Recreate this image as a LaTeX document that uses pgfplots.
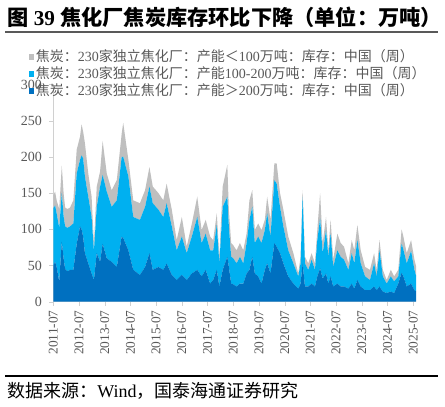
\documentclass[border=0pt]{standalone}
\usepackage{fontspec}
\setmainfont{Liberation Serif}
\newfontfamily\cjk{Noto Sans CJK SC}
\usepackage{pgfplots}
\pgfplotsset{compat=1.18}
\usepackage{pgfplotstable}

\definecolor{cokegray}{HTML}{BFBFBF}
\definecolor{cokecyan}{HTML}{00B0F0}
\definecolor{cokeblue}{HTML}{0070C0}
\definecolor{axisgray}{HTML}{D0D0D0}
\definecolor{labelgray}{HTML}{595959}

\newcommand\cj[1]{{\cjk #1}}

% weekly stock: d = >200, m = 100-200, s = <100 (10k t)
\pgfplotstableread{
t       d    m    s
2011.50 50   79   18
2011.57 55   78   19
2011.63 48   74   18
2011.73 28   74   26
2011.83 83   67   38
2011.90 60   58   32
2011.96 45   59   26
2012.05 42   60   26
2012.15 44   60   26
2012.28 44   64   32
2012.41 80   97   33
2012.54 104  92   32
2012.60 100  102  43
2012.66 90   108  37
2012.73 67   106  46
2012.86 53   92   32
2012.99 39   78   28
2013.08 30   40   10
2013.19 67   64   28
2013.32 55   104  21
2013.42 80   95   47
2013.58 60   92   25
2013.77 55   76   23
2013.97 48   92   28
2014.16 90   110  32
2014.22 88   112  47
2014.42 71   102  23
2014.61 44   73   23
2014.87 37   76   23
2015.07 48   83   23
2015.24 67   92   27
2015.37 44   92   23
2015.59 48   79   23
2015.78 44   73   23
2015.91 53   83   27
2016.11 37   67   23
2016.30 30   41   14
2016.50 37   53   27
2016.69 30   37   9
2016.89 39   51   18
2017.10 44   73   28
2017.27 35   46   18
2017.43 44   50   19
2017.60 25   46   19
2017.72 30   41   14
2017.86 44   62   16
2017.96 21   32   9
2018.09 44   87   28
2018.27 62   83   44
2018.33 48   56   23
2018.42 25   37   19
2018.50 24   36   18
2018.63 21   32   18
2018.76 25   37   19
2018.89 25   28   18
2019.02 39   42   13
2019.13 44   69   27
2019.24 62   69   23
2019.34 39   42   18
2019.47 35   55   18
2019.60 25   56   18
2019.73 44   55   14
2019.82 53   69   23
2019.95 39   51   23
2020.10 81   87   23
2020.19 76   87   28
2020.32 67   64   19
2020.45 53   51   23
2020.64 35   36   19
2020.84 25   28   14
2021.03 18   17   4
2021.12 25   28   9
2021.20 53   92   9
2021.29 21   32   9
2021.42 21   23   9
2021.55 25   33   9
2021.68 21   23   9
2021.77 35   50   14
2021.88 46   69   35
2021.98 32   35   14
2022.11 39   60   18
2022.20 25   37   9
2022.29 35   59   19
2022.39 21   27   10
2022.55 25   46   23
2022.68 21   41   19
2022.81 21   37   18
2022.98 18   26   9
2023.11 25   42   18
2023.21 18   35   18
2023.33 30   55   21
2023.46 21   32   18
2023.63 16   19   13
2023.82 16   14   14
2023.98 21   32   14
2024.08 16   19   9
2024.19 21   50   14
2024.32 14   21   9
2024.47 12   13   5
2024.63 14   21   9
2024.76 12   16   7
2024.92 25   10   9
2025.05 40   40   20
2025.12 35   37   18
2025.25 21   32   14
2025.42 25   45   15
2025.55 16   28   14
2025.62 14   21   13
}\stock

\begin{document}
\begin{tikzpicture}[x=0.75pt,y=0.75pt]
\path[use as bounding box] (0,0) rectangle (445,406);

\node[anchor=west, inner sep=0pt, font=\fontsize{15.9}{15.9}\selectfont\bfseries]
  at (7,389) {\cj{图} 39 \cj{焦化厂焦炭库存环比下降（单位：万吨）}};
\draw[line width=0.8pt, black!65] (5,374) -- (438,374);
\draw[line width=0.8pt, black] (5,30) -- (438,30);
\node[anchor=west, inner sep=0pt, font=\fontsize{13.5}{13.5}\selectfont]
  at (7,15.5) {\cj{数据来源：}Wind\cj{，国泰海通证券研究}};

\begin{axis}[
    at={(39.98pt,78.23pt)}, anchor=south west,
    scale only axis, width=272.2pt, height=162.9pt,
    xmin=2011.5, xmax=2025.62, ymin=0, ymax=300,
    stack plots=y,
    axis lines=left,
    axis line style={draw=axisgray, -},
    tick style={draw=axisgray},
    tick align=outside, major tick length=3pt,
    xtick={2011.5,2012.5,...,2025.5},
    xticklabels={2011-07,2012-07,2013-07,2014-07,2015-07,2016-07,2017-07,
      2018-07,2019-07,2020-07,2021-07,2022-07,2023-07,2024-07,2025-07},
    ytick={0,50,...,300},
    /pgf/number format/assume math mode=true,
    xticklabel style={rotate=90, anchor=east, text=labelgray,
      font=\fontsize{10}{10}\selectfont},
    yticklabel style={text=labelgray, xshift=-2pt,
      font=\fontsize{10.5}{10.5}\selectfont},
    legend style={at={(-0.08,1.18)}, anchor=north west, draw=none, fill=none,
      font=\fontsize{10.5}{12}\selectfont, text=labelgray,
      nodes={inner sep=1.1pt}, row sep=0pt},
    legend cell align=left,
    reverse legend,
    legend image code/.code={\fill[#1] (0pt,-2.2pt) rectangle (4.4pt,2.2pt);},
  ]
  \addplot[fill=cokeblue, draw=none] table[x=t, y=d] {\stock} \closedcycle;
  \addplot[fill=cokecyan, draw=none] table[x=t, y=m] {\stock} \closedcycle;
  \addplot[fill=cokegray, draw=none] table[x=t, y=s] {\stock} \closedcycle;
  \legend{\cj{焦炭：}230\cj{家独立焦化厂：产能＞}200\cj{万吨：库存：中国（周）},
    \cj{焦炭：}230\cj{家独立焦化厂：产能}100-200\cj{万吨：库存：中国（周）},
    \cj{焦炭：}230\cj{家独立焦化厂：产能＜}100\cj{万吨：库存：中国（周）}}
\end{axis}
\end{tikzpicture}
\end{document}
